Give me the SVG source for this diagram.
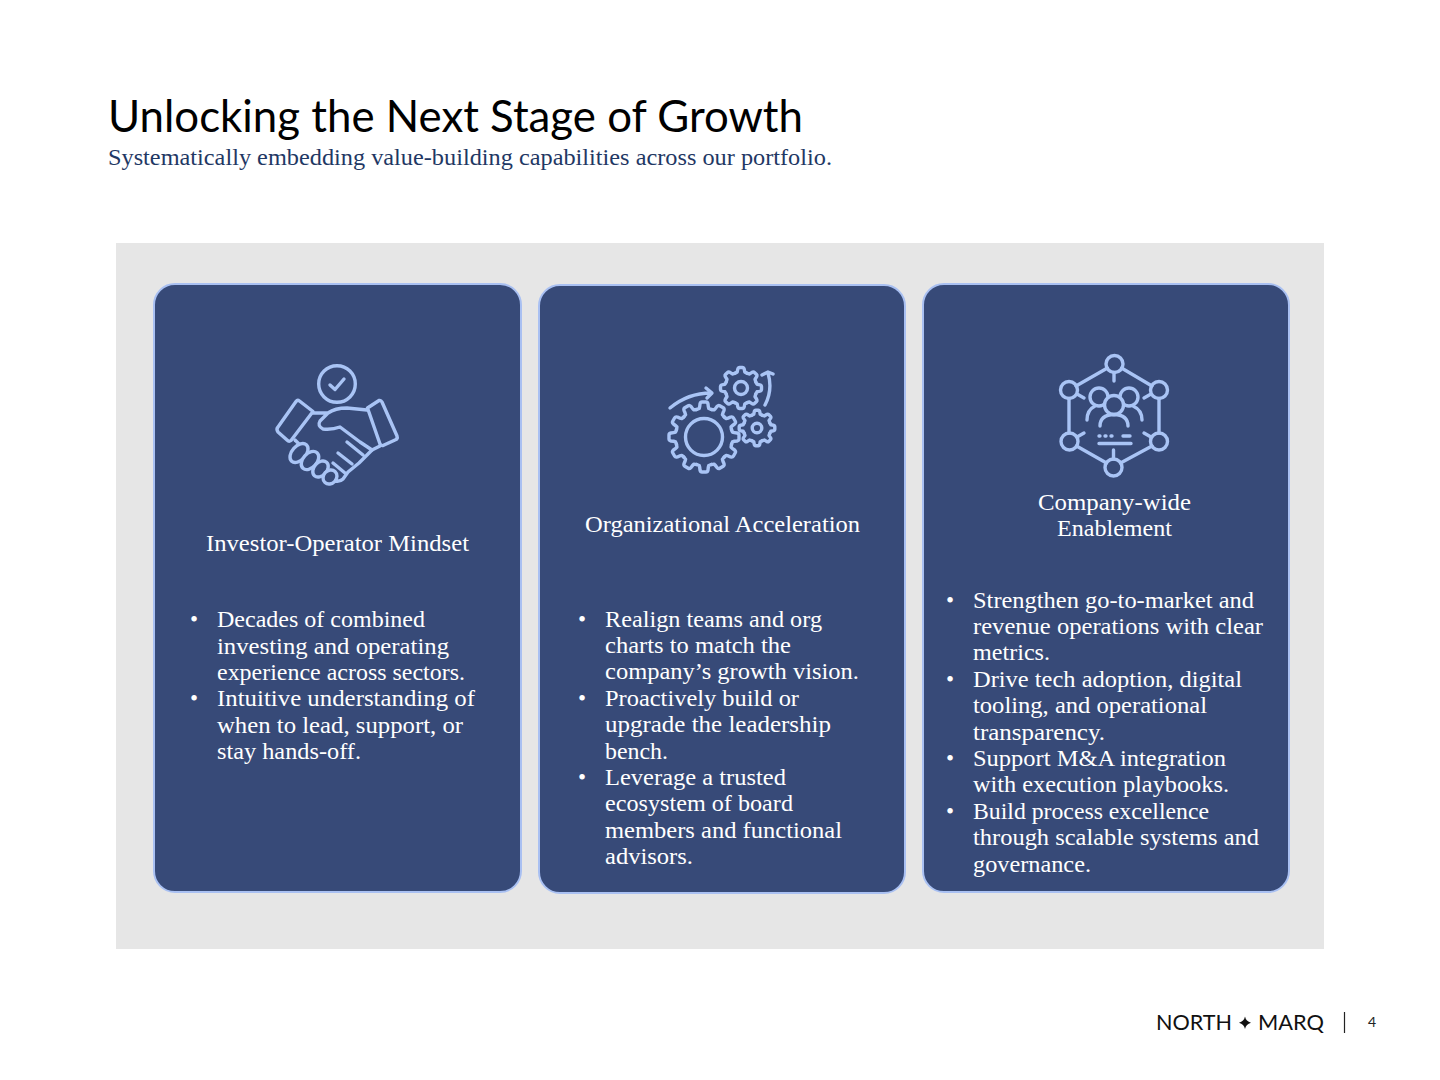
<svg xmlns="http://www.w3.org/2000/svg" width="1440" height="1080" viewBox="0 0 1440 1080">
<style>
text{font-family:"Liberation Serif","Times New Roman",serif;font-size:23px;fill:#fff}
.title{font-family:Lato,"Liberation Sans",sans-serif;font-size:44px;fill:#000}
.sub{fill:#1f3864}
.logo{font-family:Lato,"Liberation Sans",sans-serif;font-size:22px;fill:#111}
.pg{font-family:Lato,"Liberation Sans",sans-serif;font-size:14px;fill:#222}
.card{fill:#374a78;stroke:#a9c0f2;stroke-width:2}
.ic{fill:none;stroke:#a9c4f5;stroke-width:3.400;stroke-linecap:round;stroke-linejoin:round}
.f{fill:#374a78}
</style>
<defs>
<path id="bigTooth" d="M-7.400-27.500Q-6-28-4.800-28.500Q-4.200-30-4-33Q-3.500-35-2-35H2Q3.500-35 4-33Q4.200-30 4.800-28.500Q6-28 7.400-27.500"/>
<path id="smallTooth" d="M-6-14.800Q-5-15.300-3.800-16Q-3.500-18-3-19.500Q-2.500-20.500-1.500-20.500H1.500Q2.500-20.500 3-19.500Q3.500-18 3.800-16Q5-15.300 6-14.800"/>
<path id="miniTooth" d="M-5.200-12.800Q-4-13.400-3.200-13.800Q-3-15.500-2.600-16.800Q-2.200-17.800-1.400-17.800H1.400Q2.200-17.800 2.600-16.800Q3-15.500 3.200-13.800Q4-13.400 5.200-12.800"/>
</defs>
<rect width="1440" height="1080" fill="#fff"/>
<g id="header">
<text class="title" x="108" y="132" textLength="695" lengthAdjust="spacingAndGlyphs">Unlocking the Next Stage of Growth</text>
<text class="sub" x="108" y="165" textLength="724" lengthAdjust="spacingAndGlyphs">Systematically embedding value-building capabilities across our portfolio.</text>
</g>
<rect id="panel" x="116" y="243" width="1208" height="706" fill="#e6e6e6"/>
<g id="card-investor">
<rect class="card" x="154" y="284" width="367" height="608" rx="21"/>
<g class="ic">
<circle cx="337" cy="384" r="18.300"/>
<path d="M330 385L335 389.500L344 379"/>
<path d="M299.500 401L313 411.500L291 440.500Q289 442 287 440L278 432Q276 429 278 427L296 401.500Q297.500 399.500 299.500 401Z"/>
<path d="M367.500 408L379 400.500Q381 400 382 402L397 436Q398 439 395 440L383 445.500Q381 446 380 444Z"/>
<path d="M313 413H328M367 410L347 408Q335 408 328 413L320 421Q317 426 323 429Q332 430 340 427L360 442L372 450L380 446"/>
<path d="M347 442L363 455M338 453L352 464M333 463L345 473M372 450L366 456L359 463L348 472L343 479Q340 482 335 481"/>
<path d="M295 440L299 444"/>
<ellipse class="f" cx="299" cy="453" rx="11" ry="7" transform="rotate(-48 299 453)"/>
<ellipse class="f" cx="310" cy="460.500" rx="10.500" ry="7" transform="rotate(-48 310 460.500)"/>
<ellipse class="f" cx="320.500" cy="469" rx="9" ry="6.500" transform="rotate(-48 320.500 469)"/>
<ellipse class="f" cx="330" cy="477" rx="7.500" ry="6.500" transform="rotate(-48 330 477)"/>
</g>
<text x="206" y="551" textLength="263" lengthAdjust="spacingAndGlyphs">Investor-Operator Mindset</text>
<text x="190" y="627">•</text>
<text x="217" y="627" textLength="208" lengthAdjust="spacingAndGlyphs">Decades of combined</text>
<text x="217" y="653.500" textLength="232" lengthAdjust="spacingAndGlyphs">investing and operating</text>
<text x="217" y="680" textLength="248" lengthAdjust="spacingAndGlyphs">experience across sectors.</text>
<text x="190" y="706">•</text>
<text x="217" y="706" textLength="258" lengthAdjust="spacingAndGlyphs">Intuitive understanding of</text>
<text x="217" y="732.500" textLength="246" lengthAdjust="spacingAndGlyphs">when to lead, support, or</text>
<text x="217" y="759" textLength="144" lengthAdjust="spacingAndGlyphs">stay hands-off.</text>
</g>
<g id="card-org">
<rect class="card" x="539" y="285" width="366" height="608" rx="21"/>
<g class="ic">
<g transform="translate(704 437)"><circle r="18.500"/>
<use href="#bigTooth"/><use href="#bigTooth" transform="rotate(30)"/><use href="#bigTooth" transform="rotate(60)"/><use href="#bigTooth" transform="rotate(90)"/><use href="#bigTooth" transform="rotate(120)"/><use href="#bigTooth" transform="rotate(150)"/><use href="#bigTooth" transform="rotate(180)"/><use href="#bigTooth" transform="rotate(210)"/><use href="#bigTooth" transform="rotate(240)"/><use href="#bigTooth" transform="rotate(270)"/><use href="#bigTooth" transform="rotate(300)"/><use href="#bigTooth" transform="rotate(330)"/></g>
<g transform="translate(741 388)"><circle r="6.500"/>
<use href="#smallTooth"/><use href="#smallTooth" transform="rotate(45)"/><use href="#smallTooth" transform="rotate(90)"/><use href="#smallTooth" transform="rotate(135)"/><use href="#smallTooth" transform="rotate(180)"/><use href="#smallTooth" transform="rotate(225)"/><use href="#smallTooth" transform="rotate(270)"/><use href="#smallTooth" transform="rotate(315)"/></g>
<g transform="translate(757 428)"><circle r="4.800"/>
<use href="#miniTooth"/><use href="#miniTooth" transform="rotate(45)"/><use href="#miniTooth" transform="rotate(90)"/><use href="#miniTooth" transform="rotate(135)"/><use href="#miniTooth" transform="rotate(180)"/><use href="#miniTooth" transform="rotate(225)"/><use href="#miniTooth" transform="rotate(270)"/><use href="#miniTooth" transform="rotate(315)"/></g>
<path d="M670 408Q688 393 711 393M706 388L712 393L707 398"/>
<path d="M765 405Q773 390 768 373M762 375L768 372L773 374"/>
</g>
<text x="585" y="532" textLength="275" lengthAdjust="spacingAndGlyphs">Organizational Acceleration</text>
<text x="578" y="627">•</text>
<text x="605" y="627" textLength="217" lengthAdjust="spacingAndGlyphs">Realign teams and org</text>
<text x="605" y="653" textLength="186" lengthAdjust="spacingAndGlyphs">charts to match the</text>
<text x="605" y="679" textLength="254" lengthAdjust="spacingAndGlyphs">company’s growth vision.</text>
<text x="578" y="706">•</text>
<text x="605" y="706" textLength="194" lengthAdjust="spacingAndGlyphs">Proactively build or</text>
<text x="605" y="732" textLength="226" lengthAdjust="spacingAndGlyphs">upgrade the leadership</text>
<text x="605" y="759" textLength="63" lengthAdjust="spacingAndGlyphs">bench.</text>
<text x="578" y="785">•</text>
<text x="605" y="785" textLength="181" lengthAdjust="spacingAndGlyphs">Leverage a trusted</text>
<text x="605" y="811" textLength="188" lengthAdjust="spacingAndGlyphs">ecosystem of board</text>
<text x="605" y="838" textLength="237" lengthAdjust="spacingAndGlyphs">members and functional</text>
<text x="605" y="864" textLength="88" lengthAdjust="spacingAndGlyphs">advisors.</text>
</g>
<g id="card-company">
<rect class="card" x="923" y="284" width="366" height="608" rx="21"/>
<g class="ic">
<circle cx="1114.500" cy="364" r="8.500"/><circle cx="1069" cy="390" r="8.500"/><circle cx="1159" cy="390" r="8.500"/><circle cx="1069.500" cy="441.500" r="8.500"/><circle cx="1159" cy="441.500" r="8.500"/><circle cx="1113.500" cy="467.500" r="8.500"/>
<path d="M1107.500 368L1076 386M1121.500 368L1152 386M1069 398.500V433M1159 398.500V433M1076.500 446L1106.500 463M1152 446L1120.500 463"/>
<path d="M1114 372.500V381M1113.500 450V459M1077 394L1084 398M1151 394L1144 398M1077 437L1084 433M1151 437L1144 433"/>
<circle cx="1099" cy="397" r="9"/><circle cx="1129" cy="397" r="9"/><circle cx="1114" cy="405" r="9.500" class="f"/>
<path d="M1087 420Q1087 410 1095 406M1142 420Q1142 410 1133 406M1100 426Q1100 415 1114 414.500Q1128 415 1128 426"/>
<path d="M1099 436H1100M1105 436H1106M1111 436H1112M1123 436H1130M1099 443.500H1131"/>
</g>
<text x="1038" y="510" textLength="153" lengthAdjust="spacingAndGlyphs">Company-wide</text>
<text x="1057" y="536" textLength="115" lengthAdjust="spacingAndGlyphs">Enablement</text>
<text x="946" y="608">•</text>
<text x="973" y="608" textLength="281" lengthAdjust="spacingAndGlyphs">Strengthen go-to-market and</text>
<text x="973" y="634" textLength="290" lengthAdjust="spacingAndGlyphs">revenue operations with clear</text>
<text x="973" y="660" textLength="77" lengthAdjust="spacingAndGlyphs">metrics.</text>
<text x="946" y="687">•</text>
<text x="973" y="687" textLength="269" lengthAdjust="spacingAndGlyphs">Drive tech adoption, digital</text>
<text x="973" y="713" textLength="234" lengthAdjust="spacingAndGlyphs">tooling, and operational</text>
<text x="973" y="740" textLength="132" lengthAdjust="spacingAndGlyphs">transparency.</text>
<text x="946" y="766">•</text>
<text x="973" y="766" textLength="253" lengthAdjust="spacingAndGlyphs">Support M&amp;A integration</text>
<text x="973" y="792" textLength="256" lengthAdjust="spacingAndGlyphs">with execution playbooks.</text>
<text x="946" y="819">•</text>
<text x="973" y="819" textLength="236" lengthAdjust="spacingAndGlyphs">Build process excellence</text>
<text x="973" y="845" textLength="286" lengthAdjust="spacingAndGlyphs">through scalable systems and</text>
<text x="973" y="872" textLength="118" lengthAdjust="spacingAndGlyphs">governance.</text>
</g>
<g id="footer">
<text class="logo" x="1156" y="1030" textLength="76" lengthAdjust="spacingAndGlyphs">NORTH</text>
<path d="M1245 1016.500Q1246 1021.500 1251 1022.700Q1246 1024 1245 1029Q1244 1024 1239 1022.700Q1244 1021.500 1245 1016.500Z" fill="#111"/>
<text class="logo" x="1258" y="1030" textLength="66" lengthAdjust="spacingAndGlyphs">MARQ</text>
<path d="M1344.500 1012V1033" stroke="#222" stroke-width="1.200"/>
<text class="pg" x="1368" y="1027">4</text>
</g>
</svg>
